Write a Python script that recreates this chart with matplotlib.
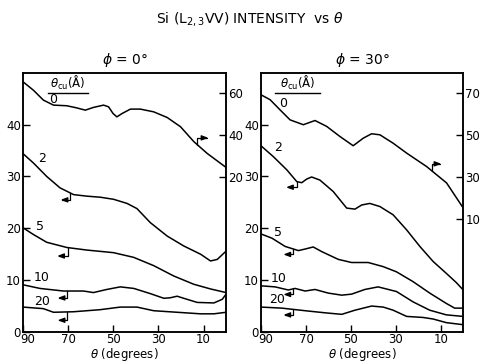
import matplotlib
matplotlib.use("Agg")
import matplotlib.pyplot as plt
import matplotlib.transforms as mtransforms
import numpy as np

# ---- data ---------------------------------------------------------------
# phi = 0 deg panel; curve "0" is read on the right-hand scale
th_a0 = [90, 85.4, 81.0, 76.5, 70.6, 66.3, 62.4, 58.8, 54.3, 52.1, 50.1, 48.4, 46.1,
         42.4, 38.0, 32.1, 26.1, 20.2, 14.3, 8.4, 0]
a0 = [65.4, 61.4, 56.7, 54.3, 54.0, 53.0, 51.9, 53.2, 54.3, 53.5, 50.3, 48.7, 50.3,
      52.4, 52.4, 51.1, 48.4, 44.0, 36.9, 31.3, 24.6]
th_a2 = [90, 85.4, 79.5, 73.6, 67.6, 61.7, 55.8, 49.9, 43.9, 39.5, 33.6, 26.1, 18.8,
         11.3, 6.9, 3.9, 0]
a2 = [34.4, 32.6, 30.0, 27.8, 26.5, 26.2, 26.0, 25.6, 24.8, 23.8, 21.1, 18.5, 16.6,
      15.0, 13.7, 14.0, 15.6]
th_a5 = [90, 85.4, 79.5, 70.6, 61.7, 49.9, 41.0, 32.1, 23.2, 14.3, 6.9, 0]
a5 = [20.1, 18.8, 17.3, 16.3, 15.8, 15.3, 14.4, 12.8, 10.8, 9.2, 8.3, 7.6]
th_a10 = [90, 82.5, 72.1, 63.2, 58.8, 52.9, 46.9, 40.9, 33.6, 27.6, 24.7, 21.7, 18.8,
          12.8, 5.4, 1.7, 0]
a10 = [9.1, 8.4, 7.9, 7.9, 7.6, 8.2, 8.7, 8.4, 7.4, 6.5, 6.6, 6.9, 6.5,
       5.7, 5.6, 6.3, 7.3]
th_a20 = [90, 81.0, 76.5, 67.6, 55.8, 46.9, 39.5, 32.1, 21.7, 11.3, 5.4, 0]
a20 = [4.8, 4.5, 3.8, 3.9, 4.3, 4.8, 4.8, 4.1, 3.8, 3.5, 3.5, 3.8]

# phi = 30 deg panel; curve "0" again on the right-hand scale
th_b0 = [90, 86, 81.6, 77.1, 71.2, 66, 60.8, 54.9, 49.0, 44.5, 40.8, 37.1, 31.2,
         25.2, 16.3, 7.4, 0]
b0 = [69.0, 66.7, 61.9, 57.1, 54.8, 56.8, 54.0, 49.2, 44.8, 48.4, 50.5, 50.0, 46.0,
      41.3, 34.9, 27.1, 15.2]
th_b2 = [90, 84.5, 78.6, 74.1, 71.9, 69.7, 67.5, 63.8, 57.9, 51.9, 48.2, 45.2, 41.6,
         37.1, 31.2, 25.2, 19.3, 13.4, 7.5, 3.0, 0]
b2 = [35.9, 33.8, 31.3, 29.0, 28.8, 29.5, 29.9, 29.3, 27.1, 23.9, 23.7, 24.5, 24.8,
      24.2, 22.6, 19.7, 16.5, 13.6, 11.3, 9.5, 8.1]
th_b5 = [90, 85.2, 79.3, 73.4, 70.4, 66.8, 63.0, 55.6, 49.7, 42.3, 35.6, 29.7, 22.3,
         14.9, 7.5, 3.8, 0]
b5 = [18.9, 18.1, 16.5, 15.7, 16.0, 16.4, 15.5, 14.0, 13.4, 13.4, 12.6, 11.6, 9.7,
      7.5, 5.5, 4.6, 4.6]
th_b10 = [90, 83.8, 77.9, 74.9, 70.4, 66.0, 60.1, 54.1, 49.7, 43.8, 37.9, 29.7, 22.3,
          14.9, 7.5, 0]
b10 = [8.9, 8.7, 8.1, 8.4, 7.9, 8.2, 7.5, 7.1, 7.3, 8.2, 8.7, 7.8, 5.8,
       4.2, 3.3, 3.0]
th_b20 = [90, 80.8, 70.4, 61.6, 54.1, 48.2, 40.8, 35.6, 31.2, 25.2, 17.9, 13.4, 7.5, 0]
b20 = [4.8, 4.6, 4.1, 3.7, 3.4, 4.2, 5.0, 4.8, 4.2, 3.0, 2.8, 2.5, 1.8, 1.4]

curve_names = ["0", "2", "5", "10", "20"]
x_ticks = [90, 70, 50, 30, 10]
left_ticks = [0, 10, 20, 30, 40]
right_ticks_a = [20, 40, 60]
right_ticks_b = [10, 30, 50, 70]

plt.rcParams['font.family'] = ['DejaVu Sans']
fig = plt.figure(figsize=(4.8, 3.64), dpi=100)

fig.text(0.52, 0.948, r"Si (L$_{2,3}$VV) INTENSITY  vs $\theta$", ha='center', va='center', fontsize=10)


def setup(ax, tw, rlim, rticks):
    ax.set_xlim(90, 0)
    ax.set_ylim(0, 50)
    ax.set_xticks(x_ticks)
    ax.set_yticks(left_ticks)
    tw.set_ylim(*rlim)
    tw.set_yticks(rticks)
    for a in (ax, tw):
        a.tick_params(direction='in', length=5, width=1, labelsize=8.5, pad=1.5)
        for s in a.spines.values():
            s.set_linewidth(1.1)
    ax.tick_params(axis='x', pad=1)
    ax.set_xlabel(r"$\theta$ (degrees)", fontsize=8.5, labelpad=-0.5)
    # nudge "90" a little right so it clears the "0" of the y axis
    lbl = ax.get_xticklabels()[0]
    lbl.set_transform(lbl.get_transform() + mtransforms.ScaledTranslation(3 / 72, 0, fig.dpi_scale_trans))


def hook(ax, th, y, dx, dy):
    # little bent arrow telling which scale a curve belongs to
    ax.annotate('', xy=(th, y), xycoords='data', xytext=(dx, dy), textcoords='offset points',
                arrowprops=dict(arrowstyle='<|-,head_length=0.4,head_width=0.15', color='k', lw=0.9,
                                shrinkA=0, shrinkB=0,
                                connectionstyle='angle,angleA=0,angleB=90,rad=0'))


def panel(pos, title, rlim, rticks, zero, others, labels, hooks, head_x, line_x):
    ax = fig.add_axes(pos)
    tw = ax.twinx()
    setup(ax, tw, rlim, rticks)
    ax.set_title(title, fontsize=10, pad=6)
    tw.plot(zero[0], zero[1], color='k', lw=1.1)
    for th, v in others:
        ax.plot(th, v, color='k', lw=1.1)
    for name, (lx, ly) in zip(curve_names, labels):
        ax.text(lx, ly, name, fontsize=9, ha='center', va='center')
    # hook on curve 0 -> right scale
    th0, dx0, dy0 = hooks[0]
    hook(tw, th0, np.interp(th0, zero[0][::-1], zero[1][::-1]), dx0, dy0)
    for (th, v), (t, dx, dy) in zip(others, hooks[1:]):
        hook(ax, t, np.interp(t, th[::-1], v[::-1]), dx, dy)
    ax.text(head_x, 0.96, r"$\theta_{\rm cu}$(Å)", transform=ax.transAxes, fontsize=8.5,
            ha='center', va='center')
    ax.plot(line_x, [0.922, 0.922], transform=ax.transAxes, color='k', lw=1.0, clip_on=False)
    return ax


panel([0.048, 0.088, 0.423, 0.712], r"$\phi$ = 0°", (-53.8, 69.7), right_ticks_a,
      (th_a0, a0),
      [(th_a2, a2), (th_a5, a5), (th_a10, a10), (th_a20, a20)],
      [(76.7, 44.8), (81.7, 33.5), (82.4, 20.3), (81.7, 10.6), (81.7, 5.8)],
      [(12.7, 8, 5), (69.1, -7, -5), (70.0, -8, -6), (70.4, -7, -5), (70.4, -7, -6)],
      0.222, [0.123, 0.32])

panel([0.544, 0.088, 0.421, 0.712], r"$\phi$ = 30°", (-43.8, 79.5), right_ticks_b,
      (th_b0, b0),
      [(th_b2, b2), (th_b5, b5), (th_b10, b10), (th_b20, b20)],
      [(80.4, 44.1), (82.3, 35.5), (82.3, 19.2), (82.3, 10.4), (83.0, 6.2)],
      [(14.0, 7, 5), (74.0, -8, -4), (75.8, -7, -4), (75.8, -7, -4), (75.8, -7, -4)],
      0.18, [0.069, 0.292])

fig.savefig("out.png", dpi=100)
